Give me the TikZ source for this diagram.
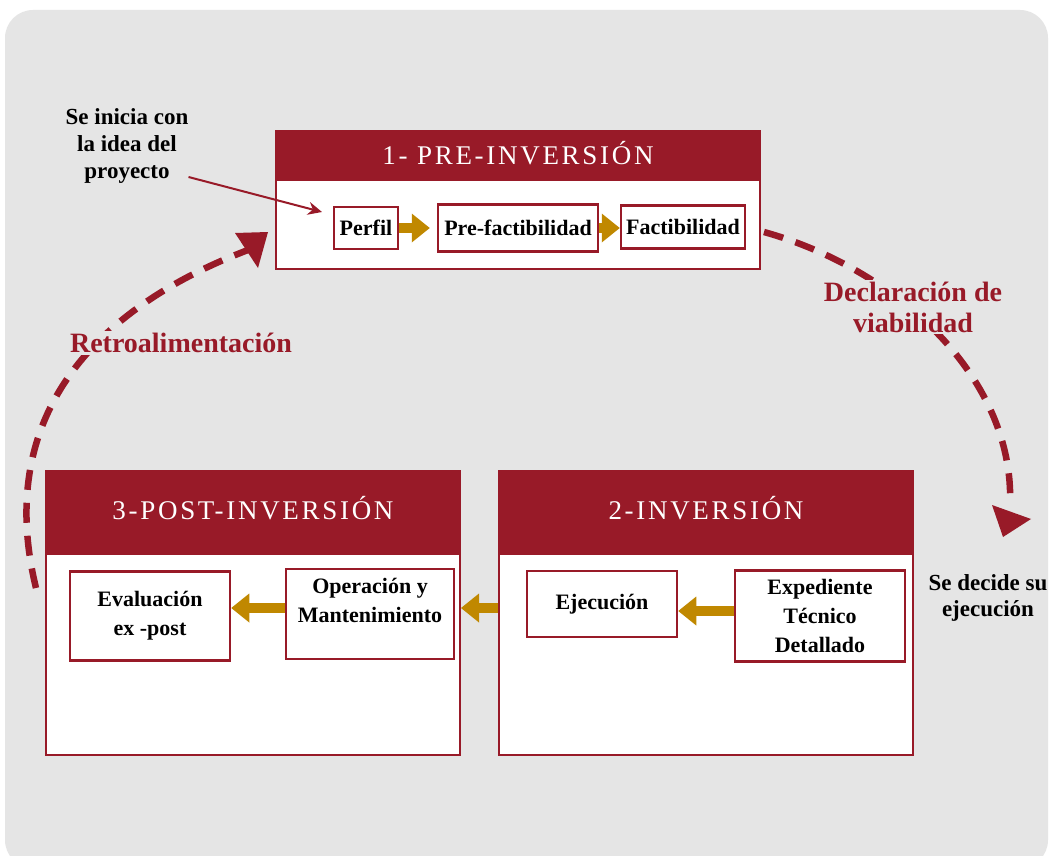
\documentclass[tikz,border=0pt]{standalone}
\usepackage{fontspec}
\setmainfont{Liberation Serif}
\newfontfamily\headfont[LetterSpace=10]{Liberation Serif}
\usetikzlibrary{calc,arrows.meta}
\definecolor{wine}{HTML}{981A28}
\definecolor{gold}{HTML}{C08800}
\definecolor{panel}{HTML}{E5E5E5}

\begin{document}
\begin{tikzpicture}[x=1pt,y=-1pt,
  stagebox/.style={draw=wine, line width=2pt, fill=white, inner sep=0pt},
  stagehead/.style={fill=wine, inner sep=0pt, text=white,
    font=\headfont\fontsize{27}{30}\selectfont},
  headtext/.style={inner sep=0pt, text=white,
    font=\headfont\fontsize{27}{30}\selectfont},
  itembox/.style={draw=wine, line width=2.5pt, fill=white, inner sep=0pt,
    align=center, font=\bfseries\fontsize{22}{29}\selectfont},
  note/.style={align=center, inner sep=0pt,
    font=\bfseries\fontsize{23}{27}\selectfont},
  tag/.style={align=center, text=wine, fill=panel, inner sep=2pt,
    font=\bfseries\fontsize{28}{31}\selectfont},
  flow/.style={draw=gold, line width=10pt,
    -{Triangle[length=18pt,width=29pt,line width=0pt]}},
  cycleline/.style={draw=wine, line width=6.5pt, dash pattern=on 20pt off 13pt},
]
\useasboundingbox (0,0) rectangle (1050,856);
\clip (0,0) rectangle (1050,856);

% panel behind everything
\fill[white] (0,0) rectangle (1050,856);
\fill[panel, rounded corners=28pt] (5,10) rectangle (1048,868);

% stage 1
\node[stagebox, minimum width=484pt, minimum height=138pt] (pre) at (518,200) {};
\node[stagehead, minimum width=484pt, minimum height=51pt, anchor=north] (preh)
  at (pre.north) {};
\node[headtext] (pret) at ([yshift=3pt]preh.center) {1- PRE-INVERSIÓN};

% stage 3
\node[stagebox, minimum width=414pt, minimum height=284pt] (post) at (253,613) {};
\node[stagehead, minimum width=414pt, minimum height=85pt, anchor=north] (posth)
  at (post.north) {};
\node[headtext] (postt) at ([yshift=5pt]posth.center) {3-POST-INVERSIÓN};

% stage 2
\node[stagebox, minimum width=414pt, minimum height=284pt] (inv) at (706,613) {};
\node[stagehead, minimum width=414pt, minimum height=85pt, anchor=north] (invh)
  at (inv.north) {};
\node[headtext] (invt) at ([yshift=5pt]invh.center) {2-INVERSIÓN};

% steps
\node[itembox, minimum width=64pt, minimum height=42pt] (perfil) at (366,228) {Perfil};
\node[itembox, minimum width=160pt, minimum height=47pt] (prefact) at (518,228) {Pre-factibilidad};
\node[itembox, minimum width=124pt, minimum height=43pt] (fact) at (683,227) {Factibilidad};
\node[itembox, minimum width=160pt, minimum height=89pt] (evalx) at (150,616) {Evaluación\\ex -post};
\node[itembox, minimum width=168pt, minimum height=90pt] (opm) at (370,614) {};
\node[itembox, draw=none, fill=none] (opmt) at (370,600) {Operación y\\Mantenimiento};
\node[itembox, minimum width=150pt, minimum height=66pt] (ejec) at (602,604) {Ejecución};
\node[itembox, minimum width=170pt, minimum height=91pt] (exped) at (820,616) {Expediente\\Técnico\\Detallado};

% flow between steps
\draw[flow, shorten >=7pt] (perfil.east) -- (perfil.east -| prefact.west);
\draw[flow] (prefact.east) -- (prefact.east -| fact.west);
\draw[flow] ([yshift=5pt]exped.west) -- ([yshift=5pt]exped.west -| ejec.east);
\draw[flow] ([yshift=5pt]inv.west) -- ([yshift=5pt]inv.west -| post.east);
\draw[flow] ([yshift=6pt]opm.west) -- ([yshift=6pt]opm.west -| evalx.east);

% cycle arrows
\coordinate (declStart) at ($(pre.east)+(3,32)$);
\coordinate (declEnd) at (1010,505);
\draw[cycleline] (declStart) .. controls (900,270) and (1015,380) .. (declEnd);
\fill[wine] (992,505) -- (1031,519) -- (1003,537) -- cycle;

\coordinate (retroStart) at (36,588);
\coordinate (retroEnd) at (248,250);
\draw[cycleline] (retroStart) .. controls (-5,420) and (90,310) .. (retroEnd);
\fill[wine] (235,233) -- (268,232) -- (258,268) -- cycle;

\node[tag] (retro) at (181,343) {Retroalimentación};
\node[tag] (decl) at (913,307) {Declaración de\\viabilidad};

% side notes
\node[note] (idea) at (127,146) {Se inicia con\\la idea del\\proyecto};
\coordinate (ideaEnd) at (322,212);
\draw[wine, line width=2pt, -{Stealth[length=14pt,width=13pt]}]
  ([yshift=-31pt]idea.east) -- (ideaEnd);
\node[note, font=\bfseries\fontsize{23}{26}\selectfont] (decide) at (988,598) {Se decide su\\ejecución};
\end{tikzpicture}
\end{document}
